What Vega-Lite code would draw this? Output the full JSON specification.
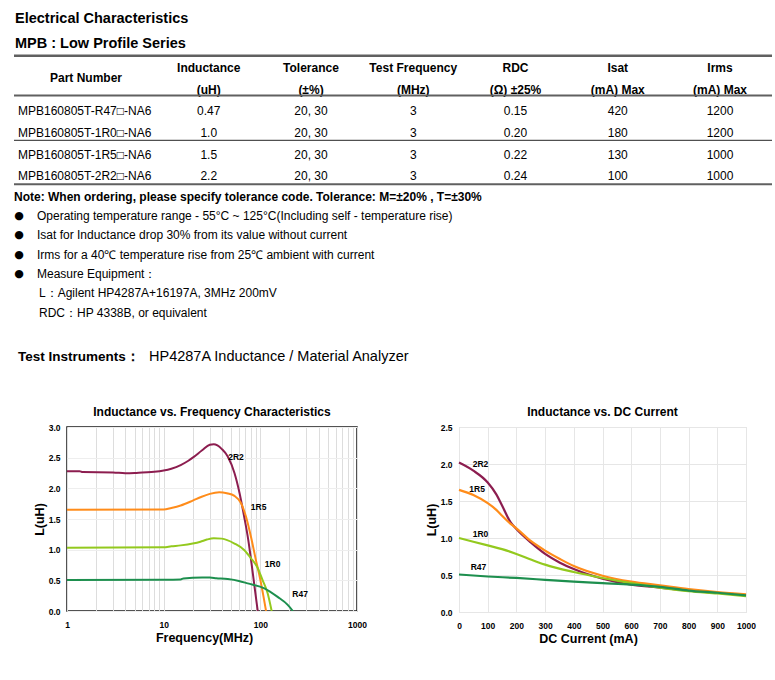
{
  "$schema": "https://vega.github.io/schema/vega-lite/v6.json",
  "background": "white",
  "padding": {"left": 12, "top": 11, "right": 4, "bottom": 0},
  "config": {
    "font": "Liberation Sans",
    "view": {"stroke": null},
    "title": {"color": "black", "font": "Liberation Sans"},
    "axis": {"labelColor": "black", "titleColor": "black", "labelFont": "Liberation Sans", "titleFont": "Liberation Sans", "labelOverlap": false},
    "text": {"color": "black"}
  },
  "datasets": {
    "header": [
      {"row": "h1", "col": "ind", "text": "Inductance"},
      {"row": "h1", "col": "tol", "text": "Tolerance"},
      {"row": "h1", "col": "freq", "text": "Test Frequency"},
      {"row": "h1", "col": "rdc", "text": "RDC"},
      {"row": "h1", "col": "isat", "text": "Isat"},
      {"row": "h1", "col": "irms", "text": "Irms"},
      {"row": "h2", "col": "ind", "text": "(uH)"},
      {"row": "h2", "col": "tol", "text": "(±%)"},
      {"row": "h2", "col": "freq", "text": "(MHz)"},
      {"row": "h2", "col": "rdc", "text": "(Ω) ±25%"},
      {"row": "h2", "col": "isat", "text": "(mA) Max"},
      {"row": "h2", "col": "irms", "text": "(mA) Max"}
    ],
    "parts": [
      {"row": "r1", "pn": "MPB160805T-R47□-NA6", "ind": "0.47", "tol": "20, 30", "freq": "3", "rdc": "0.15", "isat": "420", "irms": "1200"},
      {"row": "r2", "pn": "MPB160805T-1R0□-NA6", "ind": "1.0", "tol": "20, 30", "freq": "3", "rdc": "0.20", "isat": "180", "irms": "1200"},
      {"row": "r3", "pn": "MPB160805T-1R5□-NA6", "ind": "1.5", "tol": "20, 30", "freq": "3", "rdc": "0.22", "isat": "130", "irms": "1000"},
      {"row": "r4", "pn": "MPB160805T-2R2□-NA6", "ind": "2.2", "tol": "20, 30", "freq": "3", "rdc": "0.24", "isat": "100", "irms": "1000"}
    ],
    "notes": [
      {"line": "n0", "level": "0", "kind": "note", "text": "Note: When ordering, please specify tolerance code. Tolerance: M=±20% , T=±30%"},
      {"line": "b1", "level": "1", "kind": "bullet", "text": "Operating temperature range - 55°C ~ 125°C(Including self - temperature rise)"},
      {"line": "b2", "level": "1", "kind": "bullet", "text": "Isat for Inductance drop 30% from its value without current"},
      {"line": "b3", "level": "1", "kind": "bullet", "text": "Irms for a 40℃  temperature rise from 25℃  ambient with current"},
      {"line": "b4", "level": "1", "kind": "bullet", "text": "Measure Equipment："},
      {"line": "s1", "level": "1", "kind": "sub", "text": "L：Agilent HP4287A+16197A, 3MHz 200mV"},
      {"line": "s2", "level": "1", "kind": "sub", "text": "RDC：HP 4338B, or equivalent"},
      {"line": "T", "level": "0", "kind": "head", "text": "Test Instruments："},
      {"line": "T", "level": "0", "kind": "head2", "text": "HP4287A Inductance / Material Analyzer"}
    ],
    "freq": [
      {"part": "2R2", "f": 1, "L": 2.28}, {"part": "2R2", "f": 1.35, "L": 2.28}, {"part": "2R2", "f": 1.45, "L": 2.265},
      {"part": "2R2", "f": 3, "L": 2.26}, {"part": "2R2", "f": 4, "L": 2.245}, {"part": "2R2", "f": 5, "L": 2.25},
      {"part": "2R2", "f": 6, "L": 2.26}, {"part": "2R2", "f": 8, "L": 2.27}, {"part": "2R2", "f": 10, "L": 2.29},
      {"part": "2R2", "f": 12, "L": 2.32}, {"part": "2R2", "f": 15, "L": 2.38}, {"part": "2R2", "f": 18, "L": 2.45},
      {"part": "2R2", "f": 20, "L": 2.5}, {"part": "2R2", "f": 25, "L": 2.62}, {"part": "2R2", "f": 30, "L": 2.71},
      {"part": "2R2", "f": 33, "L": 2.72}, {"part": "2R2", "f": 36, "L": 2.7}, {"part": "2R2", "f": 40, "L": 2.64},
      {"part": "2R2", "f": 46, "L": 2.52}, {"part": "2R2", "f": 54, "L": 2.25}, {"part": "2R2", "f": 61, "L": 1.92},
      {"part": "2R2", "f": 68, "L": 1.54}, {"part": "2R2", "f": 75, "L": 1.16}, {"part": "2R2", "f": 81, "L": 0.78},
      {"part": "2R2", "f": 87, "L": 0.4}, {"part": "2R2", "f": 94, "L": 0},
      {"part": "1R5", "f": 1, "L": 1.65}, {"part": "1R5", "f": 10, "L": 1.655}, {"part": "1R5", "f": 12, "L": 1.68},
      {"part": "1R5", "f": 15, "L": 1.72}, {"part": "1R5", "f": 20, "L": 1.8}, {"part": "1R5", "f": 24, "L": 1.855},
      {"part": "1R5", "f": 30, "L": 1.91}, {"part": "1R5", "f": 37.6, "L": 1.935}, {"part": "1R5", "f": 45, "L": 1.92},
      {"part": "1R5", "f": 54, "L": 1.876}, {"part": "1R5", "f": 63, "L": 1.76}, {"part": "1R5", "f": 71, "L": 1.54},
      {"part": "1R5", "f": 80, "L": 1.21}, {"part": "1R5", "f": 90, "L": 0.83}, {"part": "1R5", "f": 100, "L": 0.51},
      {"part": "1R5", "f": 108, "L": 0.23}, {"part": "1R5", "f": 114.6, "L": 0},
      {"part": "1R0", "f": 1, "L": 1.03}, {"part": "1R0", "f": 10, "L": 1.04}, {"part": "1R0", "f": 12, "L": 1.055},
      {"part": "1R0", "f": 15, "L": 1.07}, {"part": "1R0", "f": 20, "L": 1.1}, {"part": "1R0", "f": 24, "L": 1.13},
      {"part": "1R0", "f": 28, "L": 1.165}, {"part": "1R0", "f": 33, "L": 1.186}, {"part": "1R0", "f": 40, "L": 1.18},
      {"part": "1R0", "f": 54, "L": 1.1}, {"part": "1R0", "f": 68, "L": 0.995}, {"part": "1R0", "f": 80, "L": 0.86},
      {"part": "1R0", "f": 94, "L": 0.7}, {"part": "1R0", "f": 105, "L": 0.51}, {"part": "1R0", "f": 119, "L": 0.29},
      {"part": "1R0", "f": 131, "L": 0},
      {"part": "R47", "f": 1, "L": 0.505}, {"part": "R47", "f": 10, "L": 0.51}, {"part": "R47", "f": 15, "L": 0.515},
      {"part": "R47", "f": 16, "L": 0.53}, {"part": "R47", "f": 25, "L": 0.545}, {"part": "R47", "f": 30, "L": 0.545},
      {"part": "R47", "f": 35, "L": 0.535}, {"part": "R47", "f": 46, "L": 0.52}, {"part": "R47", "f": 60, "L": 0.49},
      {"part": "R47", "f": 74, "L": 0.45}, {"part": "R47", "f": 110, "L": 0.37}, {"part": "R47", "f": 151, "L": 0.23},
      {"part": "R47", "f": 192, "L": 0.1}, {"part": "R47", "f": 217, "L": 0}
    ],
    "freqLabels": [
      {"part": "2R2", "f": 56, "L": 2.51},
      {"part": "1R5", "f": 96, "L": 1.69},
      {"part": "1R0", "f": 134, "L": 0.77},
      {"part": "R47", "f": 258, "L": 0.28}
    ],
    "dc": [
      {"part": "2R2", "I": 0, "L": 2.02}, {"part": "2R2", "I": 50, "L": 1.91}, {"part": "2R2", "I": 100, "L": 1.75},
      {"part": "2R2", "I": 130, "L": 1.59}, {"part": "2R2", "I": 150, "L": 1.44}, {"part": "2R2", "I": 180, "L": 1.21},
      {"part": "2R2", "I": 200, "L": 1.12}, {"part": "2R2", "I": 250, "L": 0.94}, {"part": "2R2", "I": 300, "L": 0.785},
      {"part": "2R2", "I": 350, "L": 0.67}, {"part": "2R2", "I": 400, "L": 0.58}, {"part": "2R2", "I": 500, "L": 0.45},
      {"part": "2R2", "I": 600, "L": 0.37}, {"part": "2R2", "I": 700, "L": 0.33}, {"part": "2R2", "I": 800, "L": 0.29},
      {"part": "2R2", "I": 900, "L": 0.26}, {"part": "2R2", "I": 1000, "L": 0.23},
      {"part": "1R5", "I": 0, "L": 1.65}, {"part": "1R5", "I": 50, "L": 1.58}, {"part": "1R5", "I": 100, "L": 1.47},
      {"part": "1R5", "I": 130, "L": 1.38}, {"part": "1R5", "I": 150, "L": 1.3}, {"part": "1R5", "I": 180, "L": 1.19},
      {"part": "1R5", "I": 200, "L": 1.13}, {"part": "1R5", "I": 250, "L": 0.96}, {"part": "1R5", "I": 300, "L": 0.83},
      {"part": "1R5", "I": 350, "L": 0.72}, {"part": "1R5", "I": 400, "L": 0.62}, {"part": "1R5", "I": 500, "L": 0.49},
      {"part": "1R5", "I": 600, "L": 0.41}, {"part": "1R5", "I": 700, "L": 0.36}, {"part": "1R5", "I": 800, "L": 0.31},
      {"part": "1R5", "I": 900, "L": 0.27}, {"part": "1R5", "I": 1000, "L": 0.24},
      {"part": "1R0", "I": 0, "L": 1.0}, {"part": "1R0", "I": 100, "L": 0.9}, {"part": "1R0", "I": 150, "L": 0.85},
      {"part": "1R0", "I": 200, "L": 0.785}, {"part": "1R0", "I": 250, "L": 0.71}, {"part": "1R0", "I": 300, "L": 0.64},
      {"part": "1R0", "I": 400, "L": 0.54}, {"part": "1R0", "I": 500, "L": 0.46}, {"part": "1R0", "I": 600, "L": 0.39},
      {"part": "1R0", "I": 700, "L": 0.33}, {"part": "1R0", "I": 800, "L": 0.28}, {"part": "1R0", "I": 900, "L": 0.25},
      {"part": "1R0", "I": 1000, "L": 0.215},
      {"part": "R47", "I": 0, "L": 0.507}, {"part": "R47", "I": 100, "L": 0.48}, {"part": "R47", "I": 200, "L": 0.46},
      {"part": "R47", "I": 300, "L": 0.435}, {"part": "R47", "I": 400, "L": 0.41}, {"part": "R47", "I": 500, "L": 0.39},
      {"part": "R47", "I": 600, "L": 0.37}, {"part": "R47", "I": 700, "L": 0.34}, {"part": "R47", "I": 800, "L": 0.29},
      {"part": "R47", "I": 900, "L": 0.26}, {"part": "R47", "I": 1000, "L": 0.225}
    ],
    "dcLabels": [
      {"part": "2R2", "I": 75, "L": 2.0},
      {"part": "1R5", "I": 63, "L": 1.66},
      {"part": "1R0", "I": 75, "L": 1.05},
      {"part": "R47", "I": 68, "L": 0.61}
    ]
  },
  "bounds": "flush",
  "spacing": 66,
  "vconcat": [
    {
      "width": 705,
      "height": 304,
      "title": {"text": "Electrical Characteristics", "subtitle": "MPB : Low Profile Series", "anchor": "start", "frame": "group", "fontSize": 14.5, "fontWeight": "bold", "subtitleFontSize": 14.5, "subtitleFontWeight": "bold", "subtitleColor": "black", "subtitleFont": "Liberation Sans", "subtitlePadding": 10.5, "offset": 3, "dx": -52},
      "resolve": {"scale": {"x": "independent", "y": "independent"}},
      "layer": [
        {
          "encoding": {
            "y": {"field": "row", "type": "ordinal", "scale": {"type": "point", "domain": ["h1", "h2", "r1", "r2", "r3", "r4"], "range": [0, 130], "padding": 0.5}, "axis": null},
            "x": {"field": "col", "type": "nominal", "scale": {"type": "point", "domain": ["pn", "ind", "tol", "freq", "rdc", "isat", "irms"], "range": [39.5, 653], "padding": 0}, "axis": null}
          },
          "layer": [
            {
              "data": {"name": "header"},
              "mark": {"type": "text", "fontSize": 12, "fontWeight": "bold", "align": "center", "baseline": "middle"},
              "encoding": {"text": {"field": "text"}}
            },
            {
              "data": {"values": [{"row": "h1", "col": "pn", "text": "Part Number"}]},
              "mark": {"type": "text", "fontSize": 12, "fontWeight": "bold", "align": "center", "baseline": "middle", "dx": -20.5, "dy": 10},
              "encoding": {"text": {"field": "text"}}
            },
            {
              "data": {"name": "parts"},
              "transform": [{"fold": ["ind", "tol", "freq", "rdc", "isat", "irms"], "as": ["col", "val"]}],
              "mark": {"type": "text", "fontSize": 12, "align": "center", "baseline": "middle"},
              "encoding": {"text": {"field": "val"}}
            },
            {
              "data": {"name": "parts"},
              "transform": [{"fold": ["pn"], "as": ["col", "val"]}],
              "mark": {"type": "text", "fontSize": 12, "align": "left", "baseline": "middle", "dx": -88.5},
              "encoding": {"text": {"field": "val"}}
            },
            {
              "data": {"values": [{"row": "h1"}]},
              "mark": {"type": "rule", "yOffset": -12, "y2Offset": -12, "xOffset": -92.5, "x2Offset": 52, "strokeWidth": 2.5, "color": "#606060"},
              "encoding": {"x": {"datum": "pn"}, "x2": {"datum": "irms"}}
            },
            {
              "data": {"values": [{"row": "h2"}]},
              "mark": {"type": "rule", "yOffset": 6, "y2Offset": 6, "xOffset": -92.5, "x2Offset": 52, "strokeWidth": 2, "color": "#606060"},
              "encoding": {"x": {"datum": "pn"}, "x2": {"datum": "irms"}}
            },
            {
              "data": {"values": [{"row": "r2"}]},
              "mark": {"type": "rule", "yOffset": 7.5, "y2Offset": 7.5, "xOffset": -92.5, "x2Offset": 52, "strokeWidth": 1.2, "color": "#505050"},
              "encoding": {"x": {"datum": "pn"}, "x2": {"datum": "irms"}}
            },
            {
              "data": {"values": [{"row": "r4"}]},
              "mark": {"type": "rule", "yOffset": 8, "y2Offset": 8, "xOffset": -92.5, "x2Offset": 52, "strokeWidth": 2, "color": "#606060"},
              "encoding": {"x": {"datum": "pn"}, "x2": {"datum": "irms"}}
            }
          ]
        },
        {
          "data": {"name": "notes"},
          "encoding": {
            "y": {"field": "line", "type": "ordinal", "scale": {"type": "point", "domain": ["n0", "b1", "b2", "b3", "b4", "s1", "s2", "gap", "T"], "range": [130, 304], "padding": 0.5}, "axis": null},
            "x": {"field": "level", "type": "ordinal", "scale": {"type": "point", "domain": ["0", "1"], "range": [-53, -30], "padding": 0}, "axis": null}
          },
          "layer": [
            {
              "transform": [{"filter": "datum.kind == 'note'"}],
              "mark": {"type": "text", "fontSize": 12, "fontWeight": "bold", "align": "left", "baseline": "middle"},
              "encoding": {"text": {"field": "text"}}
            },
            {
              "transform": [{"filter": "datum.kind == 'bullet'"}],
              "mark": {"type": "text", "fontSize": 12, "align": "left", "baseline": "middle"},
              "encoding": {"text": {"field": "text"}}
            },
            {
              "transform": [{"filter": "datum.kind == 'bullet'"}],
              "mark": {"type": "text", "fontSize": 11, "align": "center", "baseline": "middle", "font": "DejaVu Sans", "dx": 5},
              "encoding": {"x": {"datum": "0"}, "text": {"value": "●"}}
            },
            {
              "transform": [{"filter": "datum.kind == 'sub'"}],
              "mark": {"type": "text", "fontSize": 12, "align": "left", "baseline": "middle", "dx": 2},
              "encoding": {"text": {"field": "text"}}
            },
            {
              "transform": [{"filter": "datum.kind == 'head'"}],
              "mark": {"type": "text", "fontSize": 13.5, "fontWeight": "bold", "align": "left", "baseline": "middle", "dx": 4, "dy": 5.5},
              "encoding": {"text": {"field": "text"}}
            },
            {
              "transform": [{"filter": "datum.kind == 'head2'"}],
              "mark": {"type": "text", "fontSize": 14.5, "align": "left", "baseline": "middle", "dx": 135, "dy": 5.5},
              "encoding": {"text": {"field": "text"}}
            }
          ]
        }
      ]
    },
    {
      "bounds": "flush",
      "spacing": 102,
      "hconcat": [
        {
          "width": 290,
          "height": 184,
          "view": {"stroke": "#1a1a1a", "strokeWidth": 1.5},
          "title": {"text": "Inductance vs. Frequency Characteristics", "fontSize": 12, "fontWeight": "bold", "offset": 4},
          "encoding": {
            "x": {
              "field": "f", "type": "quantitative",
              "scale": {"type": "log", "domain": [1, 1000]},
              "axis": {
                "values": [1, 2, 3, 4, 5, 6, 7, 8, 9, 10, 20, 30, 40, 50, 60, 70, 80, 90, 100, 200, 300, 400, 500, 600, 700, 800, 900, 1000],
                "format": "d",
                "labelExpr": "(datum.value == 1 || datum.value == 10 || datum.value == 100 || datum.value == 1000) ? datum.label : ''",
                "title": "Frequency(MHz)", "titleFontSize": 12.5, "titleFontWeight": "bold", "titlePadding": 3, "titleX": 137,
                "labelFontSize": 8.5, "labelFontWeight": "bold", "labelPadding": 9, "labelFlush": false, "labelOverlap": false,
                "ticks": false, "domain": false, "grid": true, "gridColor": "#dddddd", "gridWidth": 1
              }
            },
            "y": {
              "field": "L", "type": "quantitative",
              "scale": {"domain": [0, 3]},
              "axis": {
                "values": [0, 0.5, 1, 1.5, 2, 2.5, 3], "tickCount": 7, "format": ".1f",
                "title": "L(uH)", "titleFontSize": 12.5, "titleFontWeight": "bold", "titlePadding": 2,
                "labelFontSize": 8.5, "labelFontWeight": "bold", "labelPadding": 7, "labelFlush": false, "labelOverlap": false,
                "ticks": false, "domain": false, "grid": true, "gridColor": "#eeeeee"
              }
            }
          },
          "layer": [
            {
              "data": {"name": "freq"},
              "mark": {"type": "line", "strokeWidth": 2, "interpolate": "monotone", "clip": true},
              "encoding": {
                "color": {"field": "part", "type": "nominal", "scale": {"domain": ["2R2", "1R5", "1R0", "R47"], "range": ["#8C1D4F", "#FF8C1A", "#93C91E", "#1D8F4E"]}, "legend": null}
              }
            },
            {
              "data": {"name": "freqLabels"},
              "mark": {"type": "text", "fontSize": 8.5, "fontWeight": "bold", "align": "center", "baseline": "middle"},
              "encoding": {"text": {"field": "part"}}
            }
          ]
        },
        {
          "width": 287,
          "height": 185,
          "view": {"stroke": "#dcdcdc", "strokeWidth": 1},
          "title": {"text": "Inductance vs. DC Current", "fontSize": 12, "fontWeight": "bold", "offset": 4},
          "encoding": {
            "x": {
              "field": "I", "type": "quantitative",
              "scale": {"domain": [0, 1000]},
              "axis": {
                "values": [0, 100, 200, 300, 400, 500, 600, 700, 800, 900, 1000], "tickCount": 11, "format": "d",
                "title": "DC Current (mA)", "titleFontSize": 12.5, "titleFontWeight": "bold", "titlePadding": 3, "titleX": 129,
                "labelFontSize": 8.5, "labelFontWeight": "bold", "labelPadding": 9, "labelFlush": false, "labelOverlap": false,
                "ticks": false, "domain": false, "grid": true, "gridColor": "#e6e6e6"
              }
            },
            "y": {
              "field": "L", "type": "quantitative",
              "scale": {"domain": [0, 2.5]},
              "axis": {
                "values": [0, 0.5, 1, 1.5, 2, 2.5], "tickCount": 6, "format": ".1f",
                "title": "L(uH)", "titleFontSize": 12.5, "titleFontWeight": "bold", "titlePadding": 2,
                "labelFontSize": 8.5, "labelFontWeight": "bold", "labelPadding": 7, "labelFlush": false, "labelOverlap": false,
                "ticks": false, "domain": false, "grid": true, "gridColor": "#e6e6e6"
              }
            }
          },
          "layer": [
            {
              "data": {"name": "dc"},
              "mark": {"type": "line", "strokeWidth": 2.2, "interpolate": "monotone"},
              "encoding": {
                "color": {"field": "part", "type": "nominal", "scale": {"domain": ["2R2", "1R5", "1R0", "R47"], "range": ["#8C1D4F", "#FF8C1A", "#93C91E", "#1D8F4E"]}, "legend": null}
              }
            },
            {
              "data": {"name": "dcLabels"},
              "mark": {"type": "text", "fontSize": 8.5, "fontWeight": "bold", "align": "center", "baseline": "middle"},
              "encoding": {"text": {"field": "part"}}
            }
          ]
        }
      ]
    }
  ]
}
